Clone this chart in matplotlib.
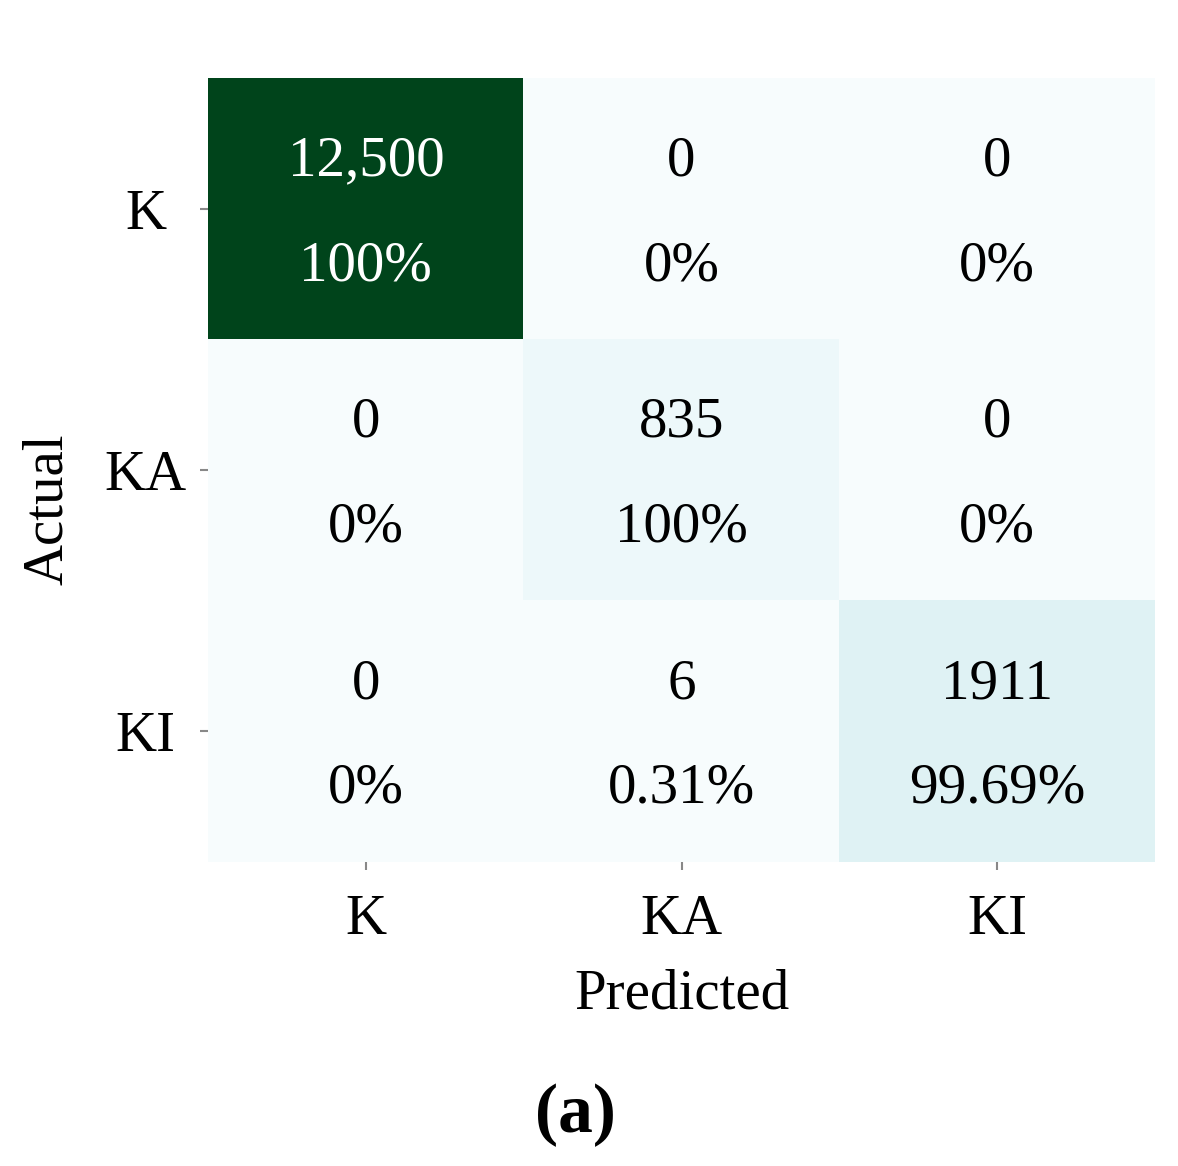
import numpy as np
import matplotlib
matplotlib.use("Agg")
import matplotlib.pyplot as plt

classes = ["K", "KA", "KI"]
counts = [[12500, 0, 0],
          [0, 835, 0],
          [0, 6, 1911]]
count_labels = [["12,500", "0", "0"],
                ["0", "835", "0"],
                ["0", "6", "1911"]]
pct_labels = [["100%", "0%", "0%"],
              ["0%", "100%", "0%"],
              ["0%", "0.31%", "99.69%"]]

plt.rcParams['font.family'] = ['Liberation Serif', 'DejaVu Serif']

fig = plt.figure(figsize=(11.78, 11.66), dpi=100)
ax = fig.add_axes([208/1178, 1 - 862/1166, (1155-208)/1178, (862-78)/1166])
data = np.array(counts, dtype=float)
ax.imshow(data, cmap='BuGn', vmin=0, vmax=data.max(), aspect='auto',
          interpolation='nearest')

for i in range(3):
    for j in range(3):
        color = 'white' if data[i, j] > data.max() * 0.5 else 'black'
        ax.text(j, i - 0.18, count_labels[i][j], ha='center', va='center',
                fontsize=41, color=color)
        ax.text(j, i + 0.22, pct_labels[i][j], ha='center', va='center',
                fontsize=41, color=color)

ax.set_xticks(range(3))
ax.set_yticks(range(3))
ax.set_xticklabels(classes, fontsize=41)
ax.set_yticklabels(classes, fontsize=41, ha='center')
ax.tick_params(axis='both', length=6, width=1.5, color='#888888')
ax.tick_params(axis='x', pad=17)
ax.tick_params(axis='y', pad=39)
for s in ax.spines.values():
    s.set_visible(False)
ax.set_xlabel("Predicted", fontsize=41, labelpad=16)
ax.set_ylabel("Actual", fontsize=41, labelpad=22, y=0.45)

fig.text(575/1178, 1 - 1115/1166, "(a)", ha='center', va='center',
         fontsize=50, fontweight='bold')

fig.savefig("out.png", dpi=100)
